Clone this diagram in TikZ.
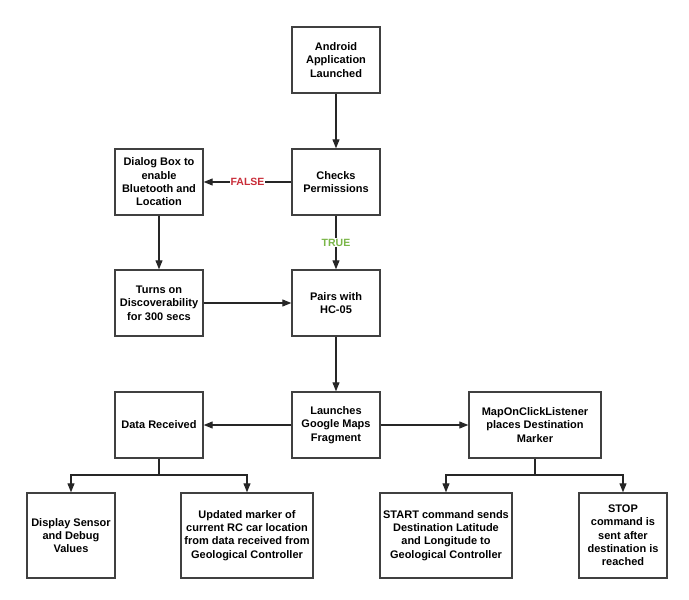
\documentclass[tikz,border=0pt]{standalone}
\usepackage{fontspec}
\setmainfont{Liberation Sans}
\usetikzlibrary{positioning, arrows.meta}
\definecolor{falsered}{HTML}{C92D39}
\definecolor{truegreen}{HTML}{7AB648}

\begin{document}
\begin{tikzpicture}[x=1pt, y=-1pt,
    stepbox/.style={draw=black!75, line width=1.4pt, fill=white, align=center,
        font=\bfseries\fontsize{11}{13.3}\selectfont, inner sep=0pt,
        minimum width=88pt, minimum height=66pt},
    tallbox/.style={stepbox, minimum height=85pt},
    flow/.style={draw=black!85, line width=1.1pt, -{Triangle[length=9pt, width=7pt]}},
    splitline/.style={draw=black!85, line width=1.1pt},
    cond/.style={fill=white, font=\bfseries\fontsize{10.5}{12}\selectfont, inner sep=1pt}]
    \useasboundingbox (0,0) rectangle (689,600);

    % top chain
    \node[stepbox] (android) at (336, 60) {Android\\Application\\Launched};
    \node[stepbox] (checks) at (336, 182) {Checks\\Permissions};
    \node[stepbox] (dialog) at (159, 182) {Dialog Box to\\enable\\Bluetooth and\\Location};
    \node[stepbox] (turns) at (159, 303) {Turns on\\Discoverability\\for 300 secs};
    \node[stepbox] (pairs) at (336, 303) {Pairs with\\HC-05};
    \node[stepbox] (launches) at (336, 425) {Launches\\Google Maps\\Fragment};

    % middle row
    \node[stepbox] (data) at (159, 425) {Data Received};
    \node[stepbox, minimum width=132pt] (mapclick) at (535, 425) {MapOnClickListener\\places Destination\\Marker};

    % bottom row
    \node[tallbox] (display) at (71, 535.5) {Display Sensor\\and Debug\\Values};
    \node[tallbox, minimum width=132pt] (updated) at (247, 535.5) {Updated marker of\\current RC car location\\from data received from\\Geological Controller};
    \node[tallbox, minimum width=132pt] (startcmd) at (446, 535.5) {START command sends\\Destination Latitude\\and Longitude to\\Geological Controller};
    \node[tallbox] (stopcmd) at (623, 535.5) {STOP\\command is\\sent after\\destination is\\reached};

    \coordinate (datasplit) at (159, 475);
    \coordinate (mapsplit) at (535, 475);

    \draw[flow] (android) -- (checks);
    \draw[flow] (checks) -- node[cond, text=falsered] {FALSE} (dialog);
    \draw[flow] (checks) -- node[cond, text=truegreen] {TRUE} (pairs);
    \draw[flow] (dialog) -- (turns);
    \draw[flow] (turns) -- (pairs);
    \draw[flow] (pairs) -- (launches);
    \draw[flow] (launches) -- (data);
    \draw[flow] (launches) -- (mapclick);

    \draw[splitline] (data) -- (datasplit);
    \draw[flow] (datasplit) -| (display);
    \draw[flow] (datasplit) -| (updated);
    \draw[splitline] (mapclick) -- (mapsplit);
    \draw[flow] (mapsplit) -| (startcmd);
    \draw[flow] (mapsplit) -| (stopcmd);
\end{tikzpicture}
\end{document}
